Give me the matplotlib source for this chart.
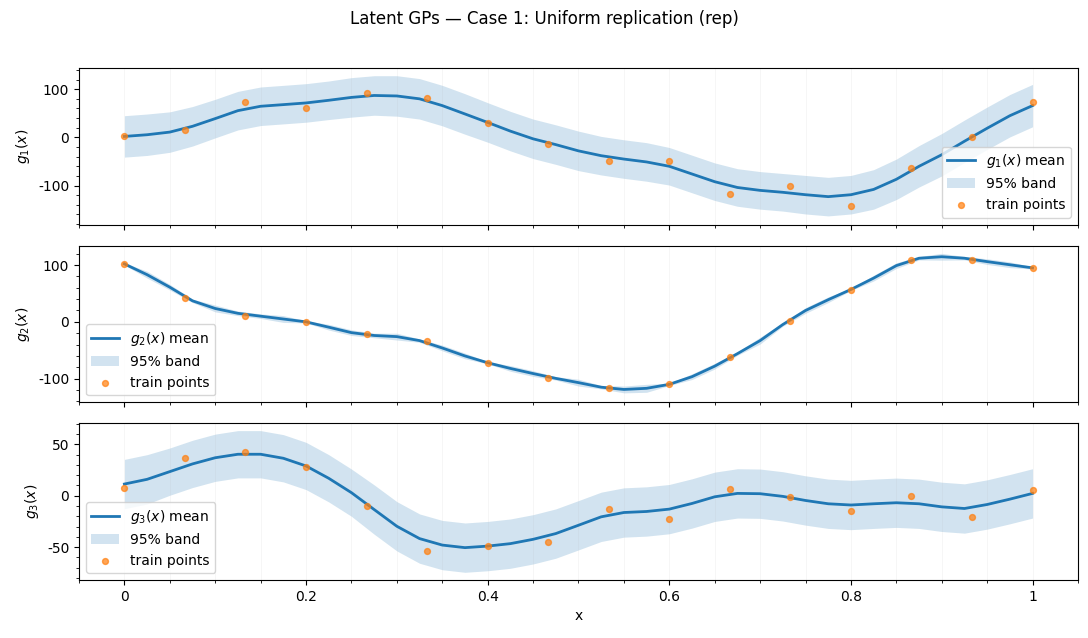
import numpy as np
import matplotlib.pyplot as plt
from matplotlib.ticker import FuncFormatter

# grid on which the posterior curves were read (step 0.025)
x_grid = np.linspace(0, 1, 41)
# training inputs
x_train = np.linspace(0, 1, 16)

# latent 1
g1_mean = [2, 5.5, 11, 23, 39, 55.5, 64.6, 68, 71.5, 77, 83, 87, 86, 80, 66, 48.6, 31, 13, -3, -15, -28,
           -38, -45, -51, -60, -76, -92, -104, -110, -114, -119, -123, -119, -108, -87, -60, -36, -8, 19, 45, 66]
g1_hw = [43, 43, 42, 41, 40, 40, 40, 40, 40, 40, 41, 41, 42, 42, 42, 42, 41, 41, 41, 41, 41,
         40, 40, 40, 39, 39, 39, 39, 39, 39, 40, 40, 40, 41, 42, 43, 44, 44, 44, 44, 44]
g1_train = [2, 15, 73, 60, 92, 81, 29, -13, -48, -50, -117, -100, -142, -64, 1, 74]

# latent 2
g2_mean = [102, 83, 61, 37, 23.5, 15, 10, 5, 0, -9.4, -19, -24, -26, -33, -46, -60, -72, -82, -91, -99.5, -107,
           -115, -119, -117, -110, -96.5, -78, -56, -33, -4.7, 20, 39, 57, 77, 99, 112, 114.6, 112, 106, 100.5, 95]
g2_hw = [2, 6, 5, 3, 6, 4, 4, 6, 2, 5, 5, 4, 6, 3, 5, 5, 2, 5, 5, 3, 6,
         3, 6, 7, 2, 5, 5, 3, 6, 3, 5, 5, 2, 5, 5, 3, 6, 3, 5, 5, 2]
g2_train = [102, 42, 11, 0, -22, -33, -72, -98, -117, -110, -61, 2, 56, 109, 109, 95]

# latent 3
g3_mean = [11.4, 16, 23.5, 31, 37, 40.4, 40.4, 36.5, 29, 17, 3, -13.4, -29.7, -41.7, -48, -50.5, -49, -46.6, -42.4, -36.8, -28.7,
           -20.5, -16.3, -15.3, -13, -7.5, -1, 2.3, 2, -0.6, -4.6, -7.8, -9, -7.8, -6.8, -7.8, -10.8, -12.4, -8.5, -3.3, 2.3]
g3_hw = [24, 24, 23, 23, 23, 23, 23, 23, 23, 23, 23, 24, 24, 24, 24, 24, 24, 24, 24, 24, 24,
         24, 24, 24, 24, 24, 24, 24, 24, 24, 24, 24, 24, 24, 24, 24, 24, 24, 24, 24, 24]
g3_train = [7.8, 36.5, 43, 27.7, -9.8, -53.8, -49, -45, -13, -22.8, 6.5, -1.3, -15, 0, -20.8, 5.5]

means = [g1_mean, g2_mean, g3_mean]
halfwidths = [g1_hw, g2_hw, g3_hw]
trains = [g1_train, g2_train, g3_train]
names = ["g_1", "g_2", "g_3"]
legend_locs = ["lower right", "lower left", "lower left"]
ylims = [(-181, 144), (-141.6, 134), (-82, 70.4)]

fig, axes = plt.subplots(3, 1, figsize=(10.88, 6.38), dpi=100, sharex=True)
fig.subplots_adjust(left=0.0726, right=0.9908, top=0.8934, bottom=0.0909, hspace=0.135)
fig.suptitle("Latent GPs — Case 1: Uniform replication (rep)", fontsize=12, y=0.985)

fmt = FuncFormatter(lambda v, p: f"{v:g}")

for ax, m, hw, tr, nm, loc, yl in zip(axes, means, halfwidths, trains, names, legend_locs, ylims):
    m = np.array(m, dtype=float)
    hw = np.array(hw, dtype=float)
    ax.plot(x_grid, m, color="C0", lw=2, label=f"${nm}(x)$ mean")
    ax.fill_between(x_grid, m - hw, m + hw, color="C0", alpha=0.2, lw=0, label="95% band")
    ax.scatter(x_train, tr, s=18, color="C1", alpha=0.7, zorder=3, label="train points")
    ax.set_ylabel(f"${nm}(x)$")
    ax.set_ylim(*yl)
    ax.minorticks_on()
    ax.grid(True, which="both", axis="x", alpha=0.12, lw=0.6)
    ax.yaxis.set_major_formatter(fmt)
    ax.xaxis.set_major_formatter(fmt)
    ax.legend(loc=loc)

axes[-1].set_xlim(-0.05, 1.05)
axes[-1].set_xlabel("x")

plt.savefig("out.png", dpi=100)
